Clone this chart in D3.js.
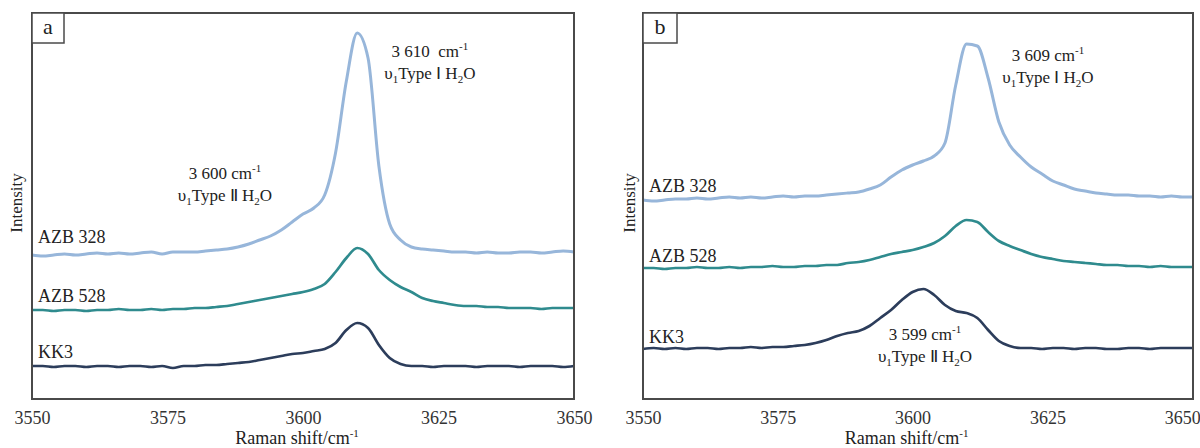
<!DOCTYPE html>
<html>
<head>
<meta charset="utf-8">
<script src="https://cdn.jsdelivr.net/npm/d3@7"></script>
<style>
  body { margin: 0; background: #fff; }
  svg { display: block; font-family: "Liberation Serif", "Times New Roman", serif; }
</style>
</head>
<body>
<svg id="chart" width="1200" height="448"></svg>
<script>
// Raman shift sampling (cm-1)
const shiftA = [3550,3552,3554,3556,3558,3560,3562,3564,3566,3568,3570,3572,3574,3576,3578,3580,3582,3584,3586,3588,
  3590,3592,3594,3596,3598,3600,3602,3604,3606,3608,3610,3612,3614,3616,3618,3620,3622,3624,3626,3628,
  3630,3632,3634,3636,3638,3640,3642,3644,3646,3648,3650];
const shiftB = [3550,3552,3554,3556,3558,3560,3562,3564,3566,3568,3570,3572,3574,3576,3578,3580,3582,3584,3586,3588,
  3590,3592,3594,3596,3598,3600,3602,3604,3606,3608,3610,3612,3614,3616,3618,3620,3622,3624,3626,3628,
  3630,3632,3634,3636,3638,3640,3642,3644,3646,3648,3650,3652];

const sampleNames = ["AZB 328", "AZB 528", "KK3"];
const sampleColors = ["#97b6da", "#2f8b8e", "#2c3d5b"];

// panel a intensities (a.u., stacked)
const aAzb328 = [144,143,144,145,144,145,146,145,146,145,146,147,145,147,147,147,148,149,150,152,
  155,159,163,169,177,185,191,204,246,318,366,341,233,175,159,152,150,149,148,147,
  147,146,147,146,146,147,147,146,147,148,147];
const aAzb528 = [89,89,88,89,89,88,89,89,90,89,89,90,89,90,90,91,91,92,93,95,
  97,99,101,103,105,107,110,115,127,141,151,145,129,119,112,107,101,98,96,94,
  93,93,92,92,91,91,91,90,91,91,91];
const aKK3 = [33,33,32,33,33,32,33,33,32,33,33,32,33,31,33,33,34,34,35,36,
  37,39,41,43,45,46,48,50,56,69,76,71,54,41,35,33,33,32,33,33,
  33,32,33,33,33,32,33,33,33,32,33];

// panel b intensities (a.u., stacked)
const bAzb328 = [199,198,199,200,200,201,200,201,202,201,202,201,202,203,202,203,203,204,205,206,
  207,210,214,222,229,234,238,243,256,314,355,353,321,277,254,242,232,225,218,214,
  210,208,206,205,204,204,203,203,202,203,202,202];
const bAzb528 = [131,131,130,131,131,132,131,131,132,131,132,132,133,132,132,133,133,134,134,136,
  137,139,142,145,147,149,152,156,163,173,179,177,167,158,153,149,145,142,140,138,
  137,136,135,134,134,133,133,132,133,132,132,132];
const bKK3 = [50,51,50,51,50,51,51,50,51,51,52,51,52,52,53,54,56,59,63,66,
  68,73,81,89,99,107,110,104,94,88,86,81,69,58,53,51,51,50,51,51,
  50,51,51,50,50,51,51,50,51,51,51,51];

const xTicks = [3550, 3575, 3600, 3625, 3650];

const panels = [
  { tag: "a", left: 32, right: 574, xDomain: [3550, 3650], shift: shiftA,
    series: [aAzb328, aAzb528, aKK3], labelDy: [12, 8, 8], tagW: 32, yLabelX: 22,
    notes: [
      { at: [3623.4, 342], l1: "3 610\u00a0 cm", l2: "Ⅰ" },
      { at: [3585.6, 220], l1: "3 600 cm", l2: "Ⅱ" }
    ] },
  { tag: "b", left: 643, right: 1193, xDomain: [3550, 3652], shift: shiftB,
    series: [bAzb328, bAzb528, bKK3], labelDy: [8, 6, 6], tagW: 34, yLabelX: 635,
    notes: [
      { at: [3625.1, 338], l1: "3 609 cm", l2: "Ⅰ" },
      { at: [3602.3, 59], l1: "3 599 cm", l2: "Ⅱ" }
    ] }
];

const plotTop = 13, plotBottom = 399;
const svg = d3.select("#chart");

panels.forEach(p => {
  const x = d3.scaleLinear().domain(p.xDomain).range([p.left, p.right]);
  const y = d3.scaleLinear().domain([0, 386]).range([plotBottom, plotTop]);
  const g = svg.append("g");

  // spectra
  const line = d3.line()
    .curve(d3.curveMonotoneX)
    .x((d, i) => x(p.shift[i]))
    .y(d => y(d));
  g.selectAll("path.spec")
    .data(p.series)
    .join("path")
      .attr("class", "spec")
      .attr("fill", "none")
      .attr("stroke", (d, i) => sampleColors[i])
      .attr("stroke-width", (d, i) => i == 0 ? 3 : 2.7)
      .attr("stroke-linejoin", "round")
      .attr("d", line);

  // frame
  g.append("rect")
    .attr("x", p.left).attr("y", plotTop)
    .attr("width", p.right - p.left).attr("height", plotBottom - plotTop)
    .attr("fill", "none").attr("stroke", "#4a4a4a").attr("stroke-width", 2);

  // panel tag
  g.append("rect")
    .attr("x", p.left).attr("y", plotTop)
    .attr("width", p.tagW).attr("height", 30)
    .attr("fill", "#fff").attr("stroke", "#4a4a4a").attr("stroke-width", 1.5);
  g.append("text")
    .attr("x", p.left + p.tagW / 2).attr("y", plotTop + 21)
    .attr("text-anchor", "middle")
    .style("font-size", "22px").attr("fill", "#222")
    .text(p.tag);

  // x axis
  g.append("g")
    .attr("transform", `translate(0,${plotBottom})`)
    .call(d3.axisBottom(x).tickValues(xTicks).tickSize(0).tickPadding(12).tickFormat(d3.format("d")))
    .call(a => a.select(".domain").remove())
    .call(a => a.selectAll("text")
      .style("font-family", "Liberation Serif, serif")
      .style("font-size", "18px")
      .attr("fill", "#333"));

  const title = g.append("text")
    .attr("x", x(3600) - 6).attr("y", 444)
    .attr("text-anchor", "middle")
    .style("font-size", "18px").attr("fill", "#222");
  title.append("tspan").text("Raman shift/cm");
  title.append("tspan").attr("dy", -7).style("font-size", "11px").text("-1");

  g.append("text")
    .attr("transform", `translate(${p.yLabelX},203) rotate(-90)`)
    .attr("text-anchor", "middle")
    .style("font-size", "17px").attr("fill", "#222")
    .text("Intensity");

  // sample labels
  g.selectAll("text.sample")
    .data(p.series)
    .join("text")
      .attr("class", "sample")
      .attr("x", p.left + 6)
      .attr("y", (d, i) => y(d[0]) - p.labelDy[i])
      .style("font-size", "18px").attr("fill", "#222")
      .text((d, i) => sampleNames[i]);

  // peak notes
  p.notes.forEach(n => {
    const cx = x(n.at[0]), cy = y(n.at[1]);
    const t1 = g.append("text")
      .attr("x", cx).attr("y", cy)
      .attr("text-anchor", "middle")
      .style("font-size", "17px").attr("fill", "#222");
    t1.append("tspan").text(n.l1);
    t1.append("tspan").attr("dy", -7).style("font-size", "11px").text("-1");

    const t2 = g.append("text")
      .attr("x", cx).attr("y", cy + 22)
      .attr("text-anchor", "middle")
      .style("font-size", "17px").attr("fill", "#222");
    t2.append("tspan").text("υ");
    t2.append("tspan").attr("dy", 4).style("font-size", "11px").text("1");
    t2.append("tspan").attr("dy", -4).text("Type " + n.l2 + " H");
    t2.append("tspan").attr("dy", 4).style("font-size", "11px").text("2");
    t2.append("tspan").attr("dy", -4).text("O");
  });
});
</script>
</body>
</html>
